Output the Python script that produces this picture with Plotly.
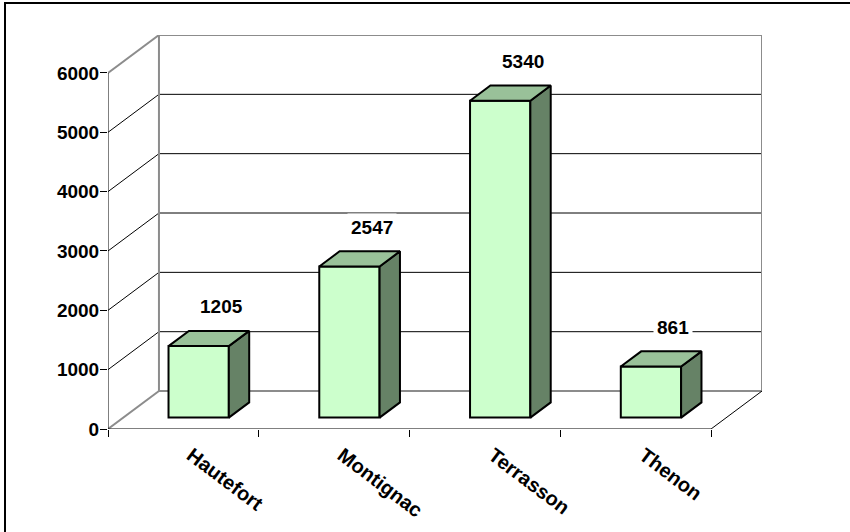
import plotly.graph_objects as go

# data
communes = ["Hautefort", "Montignac", "Terrasson", "Thenon"]
values = [1205, 2547, 5340, 861]
y_ticks = [0, 1000, 2000, 3000, 4000, 5000, 6000]

# 3D look: the back wall is shifted by (DX categories, DY value units)
DX = 0.338
DY = 640
D0, D1 = 0.3, 0.7      # front and back depth of the bars
HALF = 0.2             # half bar width

FRONT = "#CCFFCC"
TOP = "#99C199"
SIDE = "#668266"
WALL = "#8C8C8C"

FONT = "Liberation Sans, Arial, sans-serif"

# plot area in pixels (front plane from left margin to floor line)
ML, MR, MT, MB = 108, 88, 35, 103
W, H = 850, 532

pos = list(range(len(communes)))
x_lo = -0.5
x_hi = len(communes) - 0.5

fig = go.Figure()

# front faces of bars
fig.add_trace(go.Bar(
    x=pos, y=values, base=D0 * DY,
    width=2 * HALF, offset=-HALF + D0 * DX,
    marker=dict(color=FRONT, line=dict(color="black", width=2)),
    hoverinfo="skip", showlegend=False,
))

# side and top faces
for c, v in zip(pos, values):
    xr0 = c + HALF + D0 * DX
    xr1 = c + HALF + D1 * DX
    xl0 = c - HALF + D0 * DX
    xl1 = c - HALF + D1 * DX
    fig.add_trace(go.Scatter(
        x=[xr0, xr1, xr1, xr0, xr0],
        y=[D0 * DY, D1 * DY, v + D1 * DY, v + D0 * DY, D0 * DY],
        mode="lines", fill="toself", fillcolor=SIDE,
        line=dict(color="black", width=2), hoverinfo="skip", showlegend=False,
    ))
    fig.add_trace(go.Scatter(
        x=[xl0, xr0, xr1, xl1, xl0],
        y=[v + D0 * DY, v + D0 * DY, v + D1 * DY, v + D1 * DY, v + D0 * DY],
        mode="lines", fill="toself", fillcolor=TOP,
        line=dict(color="black", width=2), hoverinfo="skip", showlegend=False,
    ))

shapes = []
# walls and grid
for t in y_ticks:
    edge = t in (y_ticks[0], y_ticks[-1])
    col = WALL if edge else "black"
    w = 2 if edge else 1
    shapes.append(dict(type="line", layer="below", xref="x", yref="y",
                       x0=x_lo, y0=t, x1=x_lo + DX, y1=t + DY,
                       line=dict(color=col, width=w)))
    shapes.append(dict(type="line", layer="below", xref="x", yref="y",
                       x0=x_lo + DX, y0=t + DY, x1=x_hi + DX, y1=t + DY,
                       line=dict(color=col, width=w)))
for xe in (x_lo + DX, x_hi + DX):
    shapes.append(dict(type="line", layer="below", xref="x", yref="y",
                       x0=xe, y0=DY, x1=xe, y1=y_ticks[-1] + DY,
                       line=dict(color=WALL, width=2)))
# front axis lines
shapes.append(dict(type="line", xref="x", yref="y", x0=x_lo, y0=0, x1=x_lo, y1=y_ticks[-1],
                   line=dict(color="black", width=1)))
shapes.append(dict(type="line", xref="x", yref="y", x0=x_lo, y0=0, x1=x_hi, y1=0,
                   line=dict(color="black", width=1)))
shapes.append(dict(type="line", xref="x", yref="y", x0=x_hi, y0=0, x1=x_hi + DX, y1=DY,
                   line=dict(color="black", width=1)))
# chart border
pw, ph = W - ML - MR, H - MT - MB
shapes.append(dict(type="rect", xref="paper", yref="paper",
                   x0=(5 - ML) / pw, x1=(W + 10 - ML) / pw,
                   y0=(H - MB - (H + 10)) / ph, y1=(H - MB - 3) / ph,
                   line=dict(color="black", width=2)))

annotations = []
for c, v in zip(pos, values):
    annotations.append(dict(
        x=c + D1 * DX, y=v + D1 * DY, xref="x", yref="y",
        text=str(v), showarrow=False, yanchor="middle", yshift=24, xshift=2,
        bgcolor="white", borderpad=3,
        font=dict(family=FONT, size=19, color="black", weight="bold"),
    ))

fig.update_layout(
    width=W, height=H,
    margin=dict(l=ML, r=MR, t=MT, b=MB),
    paper_bgcolor="white", plot_bgcolor="white",
    showlegend=False,
    shapes=shapes, annotations=annotations,
    xaxis=dict(range=[x_lo, x_hi + DX], tickvals=pos, ticktext=communes,
               ticks="", tickangle=37, ticklabelstandoff=10, ticklabelshift=8,
               showgrid=False, zeroline=False, showline=False,
               tickfont=dict(family=FONT, size=20, color="black", weight="bold")),
    xaxis2=dict(range=[x_lo, x_hi + DX], overlaying="x", anchor="y", side="bottom",
                tickvals=[p - 0.5 for p in pos] + [x_hi], ticks="outside", ticklen=7,
                tickcolor="black", showticklabels=False, showgrid=False, zeroline=False),
    yaxis=dict(range=[0, y_ticks[-1] + DY], tickvals=y_ticks, ticks="outside", ticklen=7,
               tickcolor="black", ticklabelstandoff=-3,
               showgrid=False, zeroline=False, showline=False,
               tickfont=dict(family=FONT, size=19, color="black", weight="bold")),
)

# dummy trace so xaxis2 is drawn
fig.add_trace(go.Scatter(x=[x_lo], y=[0], xaxis="x2", mode="markers",
                         marker=dict(opacity=0), hoverinfo="skip", showlegend=False))

fig.update_layout(hovermode=False)
# page body margin would shift the figure by 8px
fig.write_html("out.html", config={"displayModeBar": False},
               post_script="document.body.style.margin='0';")
